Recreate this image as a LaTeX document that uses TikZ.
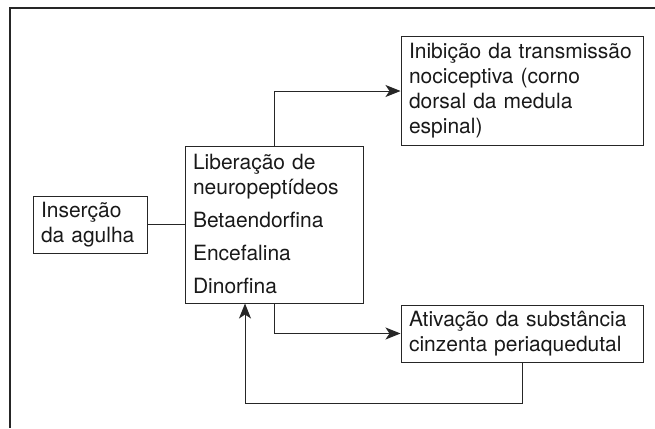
\documentclass[tikz,border=0pt]{standalone}
\usepackage{fontspec}
\setmainfont{TeX Gyre Heros}
\usepackage{tikz}
\usetikzlibrary{arrows.meta}

\begin{document}
\begin{tikzpicture}
		[x=1pt,y=-1pt,every node/.style={draw=black!85,line width=1pt,text=black!90,align=left,inner xsep=8pt,inner ysep=0pt,font=\fontsize{21pt}{25pt}\selectfont},edge/.style={-{Stealth[length=15pt,width=12pt,inset=4pt]},line width=1pt,draw=black!85}]
		\useasboundingbox (0,0) rectangle (655,428);
		\draw[line width=1.2pt,black!85] (655,8) -- (10,8) -- (10,428);
		\node (ins) at (90,224.5) [minimum width=114pt,minimum height=57pt,text width=98pt] {Inserção\\da agulha};
		\node (lib) at (274,224.5) [minimum width=178pt,minimum height=157pt,text width=162pt] {Liberação de\\neuropeptídeos\\[8pt]Betaendorfina\\[8pt]Encefalina\\[8pt]Dinorfina};
		\node (inib) at (522,91) [minimum width=242pt,minimum height=108pt,text width=226pt] {\mbox{Inibição da transmissão}\\nociceptiva (corno\\dorsal da medula\\espinal)};
		\node (ativ) at (522,333.5) [minimum width=242pt,minimum height=57pt,text width=226pt] {\mbox{Ativação da substância}\\\mbox{cinzenta periaquedutal}};
		\coordinate (loop) at (245,403);
		
		\draw[line width=1pt,black!85] (ins) -- (lib);
		\foreach \from/\to in {lib.north/inib.west,lib.south/ativ.west}
		\draw[edge] (\from) |- (\to);
		\draw[edge] (ativ.south) |- (loop) -- (loop |- lib.south);
		\end{tikzpicture}
\end{document}
